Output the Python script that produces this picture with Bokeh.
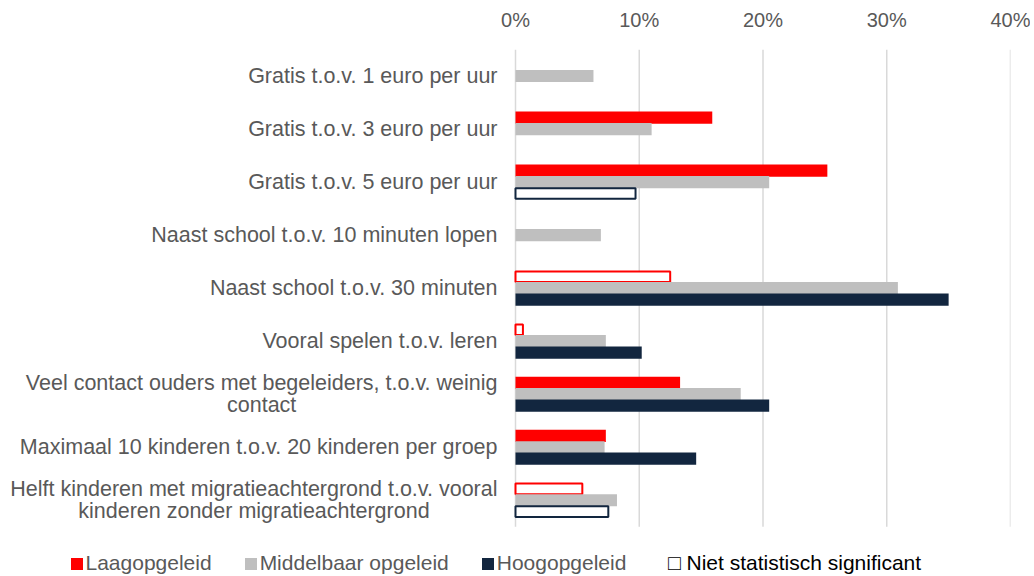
import math
from bokeh.plotting import figure
from bokeh.models import (ColumnDataSource, Legend, LegendItem, FixedTicker,
                          PrintfTickFormatter, Range1d)
from bokeh.core.properties import value
from bokeh.embed import file_html
from bokeh.resources import INLINE

NaN = float("nan")

categories = [
    "Gratis t.o.v. 1 euro per uur",
    "Gratis t.o.v. 3 euro per uur",
    "Gratis t.o.v. 5 euro per uur",
    "Naast school t.o.v. 10 minuten lopen",
    "Naast school t.o.v. 30 minuten",
    "Vooral spelen t.o.v. leren",
    "Veel contact ouders met begeleiders, t.o.v. weinig\ncontact",
    "Maximaal 10 kinderen t.o.v. 20 kinderen per groep",
    "Helft kinderen met migratieachtergrond t.o.v. vooral\nkinderen zonder migratieachtergrond",
]
laag = [NaN, 15.9, 25.2, NaN, 12.5, 0.6, 13.3, 7.3, 5.4]
middel = [6.3, 11.0, 20.5, 6.9, 30.9, 7.3, 18.2, 7.2, 8.2]
hoog = [NaN, NaN, 9.7, NaN, 35.0, 10.2, 20.5, 14.6, 7.5]
laag_sig = [True, True, True, True, False, False, True, True, False]
middel_sig = [True] * 9
hoog_sig = [True, True, False, True, True, True, True, True, False]

series_names = ["Laagopgeleid", "Middelbaar opgeleid", "Hoogopgeleid"]
series_colors = ["#ff0000", "#bfbfbf", "#12263f"]
note_text = "\u25a1 Niet statistisch significant"
x_ticks = [0, 10, 20, 30, 40]

FONT = "Liberation Sans"
TXT = "#595959"

# layout (pixels)
W, H = 1030, 574
TOP = 49
FRAME_W = 1010
ZERO_PX = 515
XMAX = 40
x_start = -ZERO_PX * XMAX / (FRAME_W - ZERO_PX)

n = len(categories)
ypos = [n - 0.5 - i for i in range(n)]  # category band centres, first on top

p = figure(
    width=W, height=H,
    x_range=Range1d(x_start, XMAX), y_range=Range1d(-0.9, n),
    x_axis_location="above",
    output_backend="svg", toolbar_location=None,
    min_border_left=0, min_border_right=W - FRAME_W,
    min_border_top=TOP, min_border_bottom=0,
)
p.outline_line_color = None
p.background_fill_color = "white"
p.border_fill_color = "white"

# vertical gridlines, spanning the category area
p.segment(x0=x_ticks, x1=x_ticks, y0=0, y1=n, line_color="#d9d9d9", line_width=1.5)

offsets = [0.215, 0.0, -0.215]
bar_h = 0.23
legend_renderers = []
for vals, sig, color, off in zip([laag, middel, hoog],
                                 [laag_sig, middel_sig, hoog_sig],
                                 series_colors, offsets):
    filled = [v if s else NaN for v, s in zip(vals, sig)]
    hollow = [v if not s else NaN for v, s in zip(vals, sig)]
    yy = [y + off for y in ypos]
    src_f = ColumnDataSource(dict(y=yy, v=filled))
    src_h = ColumnDataSource(dict(y=yy, v=hollow))
    rf = p.hbar(y="y", left=0, right="v", height=bar_h, source=src_f,
                fill_color=color, line_color=None)
    p.hbar(y="y", left=0, right="v", height=bar_h - 0.03, source=src_h,
           fill_color="white", line_color=color, line_width=2)
    legend_renderers.append(rf)

# category labels: block anchored right of the zero line, lines centred
lab_src = ColumnDataSource(dict(y=ypos, t=categories))
lab_kw = dict(x=0, y="y", text="t", source=lab_src, x_offset=-18,
              text_font=value(FONT), text_font_size="21.5px",
              text_color=TXT, text_line_height=0.93)
try:
    p.text(anchor="center_right", text_align="center", **lab_kw)
except Exception:
    p.text(text_align="right", text_baseline="middle", **lab_kw)

# axes
p.xaxis.ticker = FixedTicker(ticks=x_ticks)
p.xaxis.formatter = PrintfTickFormatter(format="%d%%")
p.xaxis.axis_line_color = None
p.xaxis.major_tick_line_color = None
p.xaxis.minor_tick_line_color = None
p.xaxis.major_label_text_font = FONT
p.xaxis.major_label_text_color = TXT
p.xaxis.major_label_text_font_size = "20px"
p.xaxis.major_label_standoff = 13
p.yaxis.visible = False
p.xgrid.visible = False
p.ygrid.visible = False

legend = Legend(
    items=[LegendItem(label=nm, renderers=[r]) for nm, r in zip(series_names, legend_renderers)],
    orientation="horizontal", location=(68.5, -1),
    glyph_width=15, glyph_height=15, label_standoff=2, spacing=31,
    padding=0, margin=0, border_line_color=None, background_fill_alpha=0,
    label_text_font=FONT, label_text_font_size="21px", label_text_color=TXT,
    label_height=20,
)
p.add_layout(legend)

dummy = p.hbar(y=[], right=[], height=0.1, fill_alpha=0, line_alpha=0)
legend2 = Legend(
    items=[LegendItem(label=note_text, renderers=[dummy])],
    orientation="horizontal", location=(668, -1),
    glyph_width=0, glyph_height=12, label_standoff=0,
    padding=0, margin=0, border_line_color=None, background_fill_alpha=0,
    label_text_font=FONT, label_text_font_size="21px", label_text_color="#000000",
    label_height=20,
)
p.add_layout(legend2)

open("out.html", "w").write(file_html(p, INLINE))
